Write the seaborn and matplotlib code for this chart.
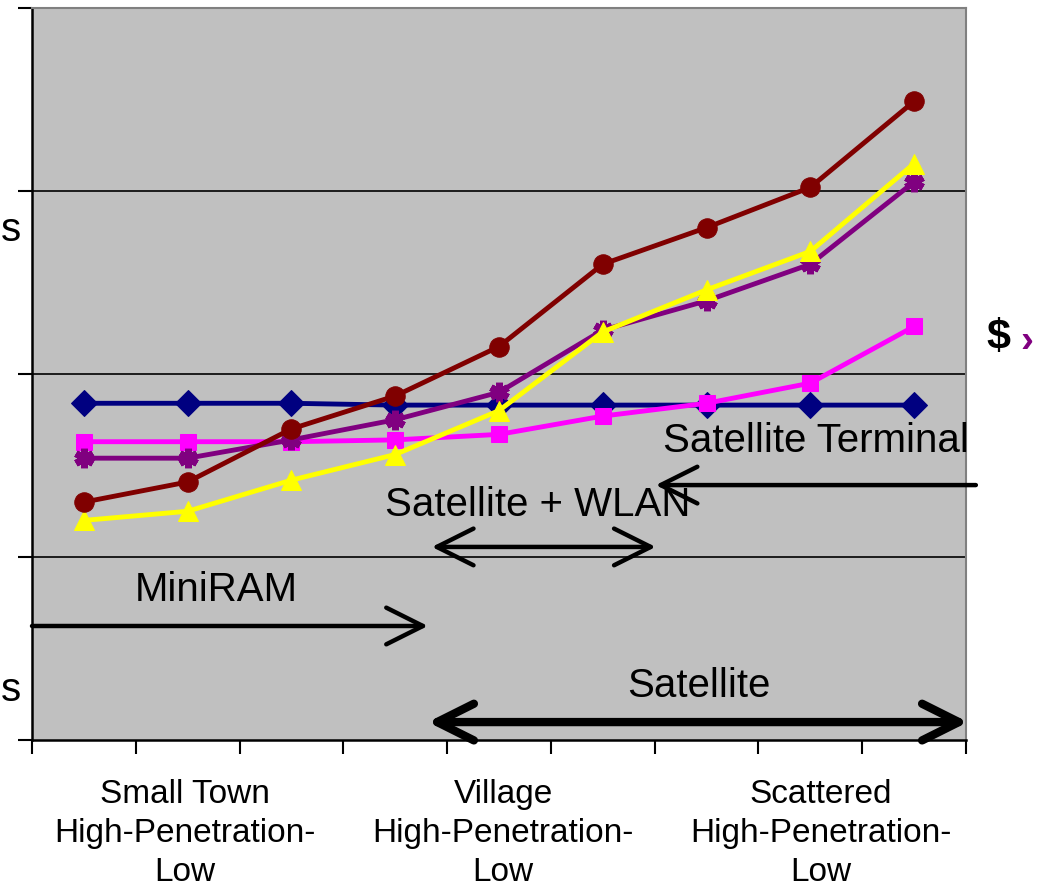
import numpy as np
import pandas as pd
import matplotlib
matplotlib.use("Agg")
import matplotlib.pyplot as plt
import seaborn as sns

# ---- data ----
positions = list(range(9))
navy_vals = [1.84, 1.84, 1.84, 1.83, 1.83, 1.83, 1.83, 1.83, 1.83]
magenta_vals = [1.63, 1.63, 1.63, 1.64, 1.67, 1.77, 1.84, 1.95, 2.26]
purple_vals = [1.54, 1.54, 1.64, 1.75, 1.90, 2.24, 2.40, 2.60, 3.05]
yellow_vals = [1.20, 1.25, 1.42, 1.56, 1.80, 2.23, 2.46, 2.67, 3.15]
darkred_vals = [1.30, 1.41, 1.70, 1.88, 2.15, 2.60, 2.80, 3.02, 3.49]

group_labels = ["Small Town\nHigh-Penetration-\nLow",
                "Village\nHigh-Penetration-\nLow",
                "Scattered\nHigh-Penetration-\nLow"]
group_pos = [0.97, 4.04, 7.10]

ann_labels = ["MiniRAM", "Satellite + WLAN", "Satellite Terminal", "Satellite"]

sns.set_style("white", {"axes.facecolor": "#C0C0C0"})
plt.rcParams['font.family'] = ['Liberation Sans', 'DejaVu Sans']
plt.rcParams['text.color'] = 'black'

fig = plt.figure(figsize=(10.45, 8.9), dpi=100)
ax = fig.add_axes([32/1045, 1-740/890, (966-32)/1045, (740-8)/890])
ax.set_facecolor("#C0C0C0")

series = [
    (navy_vals, "#000080", "D", 13, {}),
    (magenta_vals, "#FF00FF", "s", 12, {}),
    (purple_vals, "#800080", (6, 2, 0), 14, {"markeredgewidth": 5}),
    (yellow_vals, "#FFFF00", "^", 15, {}),
    (darkred_vals, "#800000", "o", 14, {}),
]
for vals, col, mk, ms, extra in series:
    df = pd.DataFrame({"x": positions, "y": vals})
    sns.lineplot(data=df, x="x", y="y", ax=ax, color=col, lw=3.5,
                 marker=mk, markersize=ms, markerfacecolor=col,
                 markeredgecolor=col, zorder=3, **extra)

ax.set_xlim(-0.5, 8.5)
ax.set_ylim(0, 4)
ax.set_yticks([0, 1, 2, 3, 4])
ax.set_yticklabels([])
ax.set_xticks(np.arange(-0.5, 8.6, 1.0))
ax.set_xticklabels([])
ax.tick_params(axis="both", direction="out", length=10, width=1.5, color="black",
               bottom=True, left=True)
ax.set_xlabel("")
ax.set_ylabel("")
for y in [1, 2, 3]:
    ax.axhline(y, color="black", lw=1.2, zorder=1)
for s in ["left", "bottom"]:
    ax.spines[s].set_color("black")
    ax.spines[s].set_linewidth(1.8)
for s in ["top", "right"]:
    ax.spines[s].set_color("#808080")
    ax.spines[s].set_linewidth(1.5)

for lab, xp in zip(group_labels, group_pos):
    ax.text(xp, -0.215, lab, ha="center", va="top", fontsize=24,
            linespacing=1.32, clip_on=False, color="black")

def arrow(x0, x1, y, style, lw):
    ax.annotate("", xy=(x1, y), xytext=(x0, y), xycoords="data",
                arrowprops=dict(arrowstyle=style + ",head_length=1.2,head_width=0.6",
                                lw=lw, color="black", mutation_scale=22,
                                shrinkA=0, shrinkB=0),
                annotation_clip=False, zorder=4)

arrow(-0.5, 3.315, 0.623, "->", 3.2)
arrow(3.353, 5.51, 1.055, "<->", 3.2)
arrow(8.595, 5.51, 1.393, "->", 3.2)
arrow(3.315, 8.52, 0.098, "<->", 6)

fs = 29
ax.text(1.28, 0.82, ann_labels[0], ha="center", va="center", fontsize=fs, color="black")
ax.text(4.37, 1.284, ann_labels[1], ha="center", va="center", fontsize=fs, color="black")
ax.text(7.05, 1.634, ann_labels[2], ha="center", va="center", fontsize=fs,
        clip_on=False, color="black")
ax.text(5.93, 0.295, ann_labels[3], ha="center", va="center", fontsize=fs, color="black")

# side labels
fig.text(1/1045, 1-230/890, "s", ha="left", va="center", fontsize=fs, color="black")
fig.text(1/1045, 1-690/890, "s", ha="left", va="center", fontsize=fs, color="black")
fig.text(998/1045, 1-338/890, "$", ha="center", va="center", fontsize=31,
         fontweight="heavy", color="black")
fig.text(1027/1045, 1-342/890, "\u203a", ha="center", va="center", fontsize=28,
         fontweight="bold", color="#800080")

fig.savefig("out.png", dpi=100)
